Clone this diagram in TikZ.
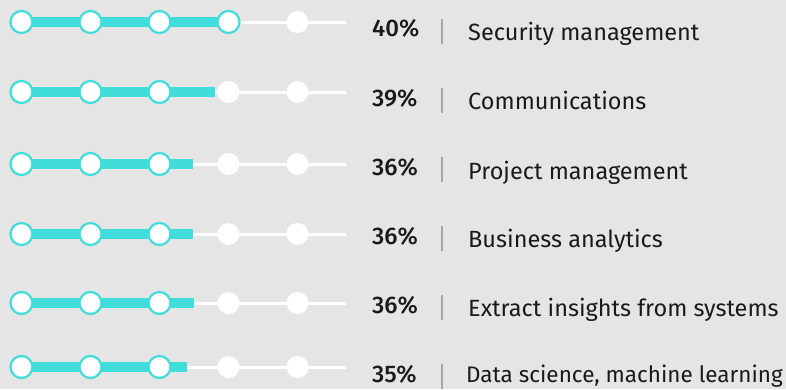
\documentclass[tikz,border=0pt]{standalone}
\usepackage{fontspec}
\setmainfont{Fira Sans}[BoldFont={Fira Sans Medium}]
\usetikzlibrary{positioning}
\definecolor{skill}{HTML}{40DDDB}
\definecolor{backdrop}{HTML}{E5E5E5}
\definecolor{divider}{HTML}{A6A6A6}
\definecolor{ink}{HTML}{1A1A1A}

\begin{document}
\begin{tikzpicture}[x=1pt, y=-1pt, dot/.style={circle,fill=white,line width=2.2pt,minimum size=22pt,inner sep=0pt}, bar/.style={skill,line width=10pt}, track/.style={white,line width=3pt}, divide/.style={divider,line width=1.5pt}, pct/.style={anchor=base west,text=ink,inner sep=0pt,font=\bfseries\fontsize{24}{28}\selectfont}, skillname/.style={anchor=base west,text=ink,inner sep=0pt}]
\fill[backdrop] (0,0) rectangle (786,389);
\useasboundingbox (0,0) rectangle (786,389);
\foreach \i/\y/\stop/\n/\pb/\lb/\lx/\fs/\val/\name in {1/22/229/4/36.5/40/468/23.5/40/Security management, 2/92/215/3/106/109/468/23.5/39/Communications, 3/164/193/3/175/179/468/23.5/36/Project management, 4/234/193/3/244/247/468/23.5/36/Business analytics, 5/303/194/3/313/316/468/23.5/36/Extract insights from systems, 6/367/187/3/382/382.5/466/22.5/35/{Data science, machine learning}}{
  \coordinate (s\i) at (21.5,\y);
  \coordinate (t\i) at (346,\y);
  \coordinate (e\i) at (\stop,\y);
  \draw[track] (s\i) -- (t\i);
  \draw[bar] (s\i) -- (e\i);
  \foreach \k in {1,...,5}{
    \ifnum\k>\n \def\rc{none}\else\def\rc{skill}\fi
    \node[dot,draw=\rc] (c\i\k) at (21.5+69*\k-69,\y) {};
  }
  \node[pct] (p\i) at (372,\pb) {\val\%};
  \node[skillname,font=\fontsize{\fs}{28}\selectfont] (n\i) at (\lx,\lb) {\name};
  \draw[divide] (442,\pb-18) -- (442,\pb+7);
}
\end{tikzpicture}
\end{document}
